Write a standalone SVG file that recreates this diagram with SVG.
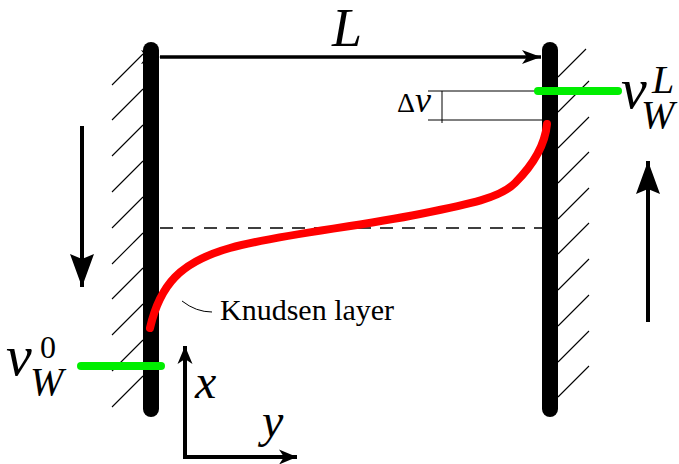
<svg xmlns="http://www.w3.org/2000/svg" width="679" height="464" viewBox="0 0 679 464">
<style>
.hatch{stroke:#000;stroke-width:1.1;fill:none}
.wall{stroke:#000;stroke-width:16;stroke-linecap:round;fill:none}
.green{stroke:#00ee00;stroke-width:8;stroke-linecap:round;fill:none}
.thin{stroke:#000;stroke-width:1;fill:none}
.arrow{stroke:#000;stroke-width:4;fill:none}
text{font-family:'Liberation Serif','Times New Roman','DejaVu Serif',serif;fill:#000}
.i{font-style:italic}
</style>
<defs>
<marker id="ahL" markerWidth="20" markerHeight="16" viewBox="-20 -8 20 16" refX="0" refY="0" orient="auto" markerUnits="userSpaceOnUse">
<path d="M0,0 L-19,-7 L-14,0 L-19,7 Z" fill="#000"/>
</marker>
<marker id="ahBig" markerWidth="34" markerHeight="28" viewBox="-34 -14 34 28" refX="0" refY="0" orient="auto" markerUnits="userSpaceOnUse">
<path d="M0,0 L-33,-12 L-28,0 L-33,12 Z" fill="#000"/>
</marker>
<marker id="ahAx" markerWidth="20" markerHeight="16" viewBox="-20 -8 20 16" refX="0" refY="0" orient="auto" markerUnits="userSpaceOnUse">
<path d="M0,0 L-18,-7.5 L-13,0 L-18,7.5 Z" fill="#000"/>
</marker>
</defs>

<g id="left-wall">
<g class="hatch">
<line x1="112" y1="85" x2="143" y2="54"/>
<line x1="112" y1="120" x2="143" y2="89"/>
<line x1="112" y1="156" x2="143" y2="125"/>
<line x1="112" y1="192" x2="143" y2="161"/>
<line x1="112" y1="228" x2="143" y2="197"/>
<line x1="112" y1="264" x2="143" y2="233"/>
<line x1="112" y1="299" x2="143" y2="268"/>
<line x1="112" y1="335" x2="143" y2="304"/>
<line x1="112" y1="371" x2="143" y2="340"/>
<line x1="112" y1="407" x2="143" y2="376"/>
</g>
<line class="wall" x1="151" y1="50" x2="151" y2="409"/>
</g>

<g id="right-wall">
<g class="hatch">
<line x1="558" y1="77" x2="586" y2="49"/>
<line x1="558" y1="112" x2="589" y2="81"/>
<line x1="558" y1="148" x2="589" y2="117"/>
<line x1="558" y1="183" x2="589" y2="152"/>
<line x1="558" y1="219" x2="589" y2="188"/>
<line x1="558" y1="254" x2="589" y2="223"/>
<line x1="558" y1="290" x2="589" y2="259"/>
<line x1="558" y1="326" x2="589" y2="295"/>
<line x1="558" y1="362" x2="589" y2="331"/>
<line x1="558" y1="397" x2="589" y2="366"/>
</g>
<line class="wall" x1="550" y1="50" x2="550" y2="409"/>
</g>

<g id="connectors">
<line x1="160" y1="57" x2="541" y2="57" class="arrow" marker-start="url(#ahL)" marker-end="url(#ahL)" style="stroke-width:3.5"/>
<line x1="160" y1="228" x2="542" y2="228" stroke="#000" stroke-width="1.6" stroke-dasharray="13,9"/>
<line x1="82" y1="126" x2="82" y2="287" class="arrow" marker-end="url(#ahBig)"/>
<line x1="648" y1="322" x2="648" y2="161" class="arrow" marker-end="url(#ahBig)"/>
<line x1="185" y1="459" x2="185" y2="346" class="arrow" marker-end="url(#ahAx)"/>
<line x1="183" y1="457" x2="297" y2="457" class="arrow" marker-end="url(#ahAx)"/>
<line class="thin" x1="428" y1="91" x2="540" y2="91"/>
<line class="thin" x1="428" y1="120" x2="546" y2="120"/>
<line class="thin" x1="442" y1="91" x2="442" y2="123"/>
<path class="thin" d="M182,301 Q196,312 212,312"/>
</g>

<g id="profile">
<path d="M150,328 C160,285 180,262 230,248 S350,228 420,214 C470,204 500,198 515,183 C533,165 545,145 547,124" fill="none" stroke="#ff0000" stroke-width="8" stroke-linecap="round"/>
</g>

<g id="wall-velocity-L">
<line class="green" x1="538" y1="91" x2="618" y2="91"/>
<text class="i" x="621" y="108" font-size="58">v</text>
<text class="i" x="652" y="93" font-size="40">L</text>
<text class="i" x="641" y="128" font-size="40">W</text>
</g>

<g id="wall-velocity-0">
<line class="green" x1="81" y1="366" x2="161" y2="366"/>
<text class="i" x="6" y="375" font-size="58">v</text>
<text x="40" y="358" font-size="32">0</text>
<text class="i" x="30" y="395" font-size="40">W</text>
</g>

<g id="labels">
<text class="i" x="332" y="46" font-size="54">L</text>
<text x="397" y="112" font-size="28">Δ<tspan font-style="italic" font-size="36">v</tspan></text>
<text x="220" y="320" font-size="30">Knudsen layer</text>
<text class="i" x="195" y="398" font-size="48">x</text>
<text class="i" x="262" y="437" font-size="48">y</text>
</g>
</svg>
